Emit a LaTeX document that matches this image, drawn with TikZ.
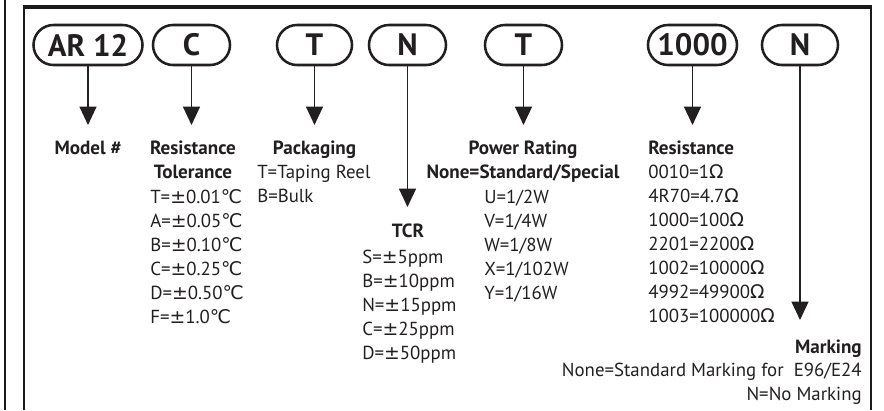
\documentclass[tikz,border=0pt]{standalone}
\usepackage{fontspec}
\setmainfont{PT Sans}
\newfontfamily\symfont{DejaVu Sans}
\usetikzlibrary{arrows.meta,shapes.misc}
\definecolor{ink}{HTML}{231F20}
\definecolor{frame}{HTML}{1A1A1A}
\newcommand{\degcsign}{{\symfont ℃}}
\newcommand{\ohmsign}{{\symfont Ω}}
\newcommand{\pmsign}{{\symfont ±}}

\begin{document}
\begin{tikzpicture}[
  x=0.025cm,y=-0.025cm,
  text=ink,
  arrow/.style={-{Triangle[length=13pt,width=12pt]},draw=ink,line width=1pt},
  bubble/.style={draw=ink,rounded rectangle,line width=1.8pt,
    minimum height=1cm,inner sep=0pt,
    font=\fontsize{22}{24}\selectfont\bfseries},
  head/.style={font=\fontsize{13.6}{17}\selectfont\bfseries,
    inner sep=0pt,anchor=base},
  item/.style={font=\fontsize{13.4}{17}\selectfont,
    inner sep=0pt,anchor=base west}
]
  \useasboundingbox (0,0) rectangle (884,410);

  % frame
  \draw[draw=frame,line width=1.4pt] (5,0) -- (5,410);
  \draw[draw=frame,line width=1.9pt] (24,410) -- (24,7);
  \draw[draw=frame,line width=1.5pt] (871,7) -- (871,410);
  \draw[draw=frame,line width=2.2pt] (23.3,7) -- (871.6,7);

  % code fields
  \foreach \name/\x/\w/\txt in {ar/88/109/AR 12,tol/191.5/77/C,
      pack/314.5/75/T,tcr/407.5/77/N,pow/523.5/77/T,
      res/692.5/89/1000,mark/800/76/N}{
    \node[bubble,minimum width=\w*0.7113pt] (\name) at (\x,45) {\txt};
  }
  \foreach \name/\y in {ar/125,tol/125,pack/125,tcr/207,pow/125,
      res/125,mark/320}{
    \coordinate (\name-tip) at (\name.south |- 0,\y);
    \draw[arrow] (\name.south) -- (\name-tip);
  }

  % model
  \node[head] (modelHead) at (88,154.5) {Model \#};

  % tolerance
  \node[head] (tolHead) at (193,154.5) {Resistance};
  \node[head] (tolHead2) at (193,178.5) {Tolerance};
  \foreach \c/\v [count=\i from 0] in {T/0.01,A/0.05,B/0.10,
      C/0.25,D/0.50,F/1.0}{
    \node[item] (tol-\i) at (150,{203+24*\i}) {\c=\pmsign\v\degcsign};
  }

  % packaging
  \node[head] (packHead) at (314.5,154.5) {Packaging};
  \foreach \t [count=\i from 0] in {T=Taping Reel,B=Bulk}{
    \node[item] (pack-\i) at (257,{178.5+24*\i}) {\t};
  }

  % tcr
  \node[head] (tcrHead) at (408,237) {TCR};
  \foreach \c/\v [count=\i from 0] in {S/5,B/10,N/15,C/25,D/50}{
    \node[item] (tcr-\i) at (362,{263+24*\i}) {\c=\pmsign\v ppm};
  }

  % power rating
  \node[head] (powHead) at (523,154.5) {Power Rating};
  \node[head] (powHead2) at (523,178.5) {None=Standard/Special};
  \foreach \t [count=\i from 0] in {U=1/2W,V=1/4W,W=1/8W,
      X=1/102W,Y=1/16W}{
    \node[item] (pow-\i) at (484,{203+24*\i}) {\t};
  }

  % resistance
  \node[head,anchor=base west] (resHead) at (648,154.5) {Resistance};
  \foreach \t [count=\i from 0] in {0010=1,4R70=4.7,1000=100,
      2201=2200,1002=10000,4992=49900,1003=100000}{
    \node[item] (res-\i) at (648,{178+24*\i}) {\t\ohmsign};
  }

  % marking
  \node[head,anchor=base east] (markHead) at (862,353) {Marking};
  \node[item,anchor=base east] (mark-0) at (862,376)
    {None=Standard Marking for\ \ E96/E24};
  \node[item,anchor=base east] (mark-1) at (862,400) {N=No Marking};
\end{tikzpicture}
\end{document}
